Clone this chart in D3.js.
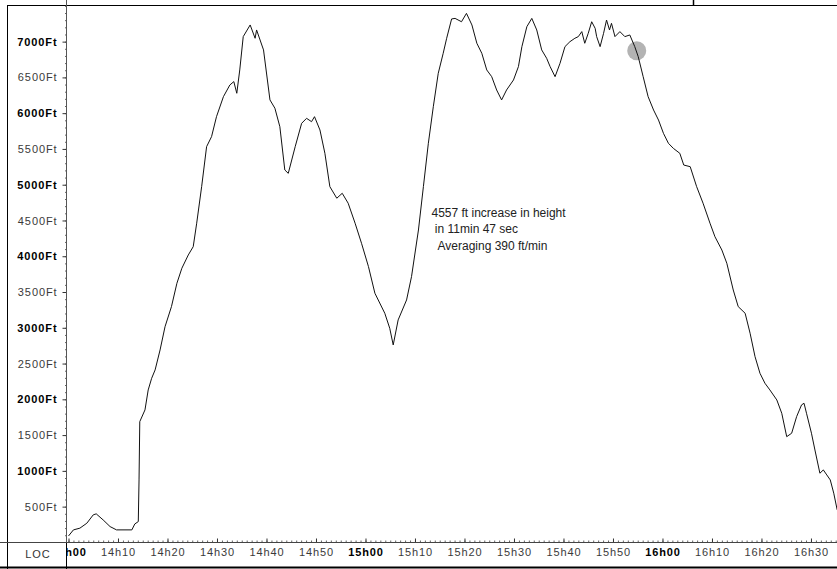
<!DOCTYPE html>
<html>
<head>
<meta charset="utf-8">
<script src="https://cdn.jsdelivr.net/npm/d3@7/dist/d3.min.js"></script>
<style>
  html, body { margin: 0; padding: 0; background: #fff; }
  svg { display: block; }
  .axis text { font-family: "Liberation Sans", Arial, sans-serif; font-size: 11px; letter-spacing: 0.9px; fill: #3a3a3a; }
  .axis text.major { font-weight: bold; fill: #000; }
  .note { font-family: "Liberation Sans", Arial, sans-serif; font-size: 12px; fill: #222; }
</style>
</head>
<body>
<svg id="chart" width="837" height="569"></svg>
<script>
// Flight altitude log: minutes after 14h00 and altitude in feet
const minutes = [
  0, 1.0, 2.3, 3.7, 5.0, 5.6, 7.0, 8.4, 9.7, 12.8, 13.4, 14.1, 14.25, 14.4, 15.45, 16.1, 16.8, 17.5,
  18.5, 19.5, 20.8, 21.9, 22.9, 24.2, 25.2, 25.9, 26.9, 27.9, 28.9, 29.9, 31.3, 32.6, 33.4, 34.0,
  34.6, 35.3, 36.7, 37.7, 38.0, 39.4, 40.7, 41.7, 42.7, 43.7, 44.4, 45.8, 47.1, 48.1, 49.1, 49.7,
  50.8, 51.8, 52.8, 54.2, 55.3, 56.5, 57.9, 59.2, 60.6, 61.9, 63.9, 64.9, 65.6, 66.6, 68.3, 69.3,
  70.7, 71.7, 72.7, 73.7, 74.7, 75.7, 76.4, 77.4, 78.1, 79.4, 80.4, 81.5, 82.5, 83.5, 84.5, 85.5,
  86.5, 87.5, 88.5, 89.9, 90.9, 91.6, 92.6, 93.6, 94.6, 95.6, 96.6, 97.3, 98.3, 99.3, 100.3, 101.3,
  102.3, 103.0, 103.7, 104.3, 105.0, 105.7, 106.4, 106.7, 107.4, 108.1, 108.7, 109.3, 109.7, 110.4,
  111.4, 112.4, 113.4, 114.4, 115.1, 116.1, 117.1, 118.2, 119.2, 120.2, 121.2, 122.2, 123.5, 124.3,
  125.6, 126.9, 128.2, 129.6, 130.6, 132.0, 133.0, 134.3, 135.3, 136.7, 137.7, 138.7, 139.7, 140.7,
  141.7, 143.1, 144.1, 145.1, 146.1, 147.1, 148.1, 148.6, 149.1, 150.1, 150.8, 151.8, 152.5, 153.2,
  153.9, 154.6, 155.3
];
const altitudeFt = [
  90, 175, 199, 268, 385, 399, 314, 221, 175, 175, 258, 291, 873, 1688, 1852, 2131, 2294, 2411,
  2690, 3015, 3296, 3622, 3832, 4018, 4134, 4462, 4973, 5532, 5672, 5951, 6231, 6394, 6441, 6278,
  6604, 7070, 7233, 7047, 7163, 6884, 6185, 6069, 5811, 5206, 5159, 5532, 5858, 5928, 5881, 5951,
  5765, 5439, 4973, 4811, 4880, 4741, 4462, 4181, 3855, 3483, 3203, 2993, 2760, 3110, 3389, 3715,
  4367, 4973, 5579, 6090, 6557, 6837, 7047, 7317, 7325, 7278, 7395, 7233, 6977, 6837, 6604, 6510,
  6324, 6185, 6324, 6464, 6651, 6930, 7209, 7325, 7163, 6884, 6767, 6651, 6510, 6697, 6930, 6999,
  7047, 7070, 7140, 6977, 7116, 7278, 7186, 7070, 6930, 7116, 7302, 7163, 7256, 7070,
  7140, 7070, 7093, 6930, 6790, 6510, 6231, 6044, 5904, 5718, 5579, 5508, 5439, 5275,
  5252, 4973, 4741, 4462, 4273, 4087, 3902, 3528, 3296, 3203, 2924, 2596, 2364, 2225,
  2131, 1991, 1805, 1478, 1526, 1758, 1922, 1945, 1805, 1526, 1292, 967, 1013, 943,
  873, 688, 454
];

// Axis ticks
const altTicks = [500, 1000, 1500, 2000, 2500, 3000, 3500, 4000, 4500, 5000, 5500, 6000, 6500, 7000];
const timeTicks = [0, 10, 20, 30, 40, 50, 60, 70, 80, 90, 100, 110, 120, 130, 140, 150];
const timeTickLabels = ["14h00", "14h10", "14h20", "14h30", "14h40", "14h50", "15h00", "15h10",
  "15h20", "15h30", "15h40", "15h50", "16h00", "16h10", "16h20", "16h30"];

// Marker on the descent and the climb summary
const markerPoint = { t: 114.8, alt: 6872 };
const noteLines = ["4557 ft increase in height", " in 11min 47 sec", "  Averaging 390 ft/min"];

const W = 837, H = 569;
const plot = { left: 66.5, right: 837, top: 5, bottom: 542.5 };

const svg = d3.select("#chart");

const x = d3.scaleLinear().domain([0, 155.3]).range([68.5, 837.2]);
const y = d3.scaleLinear().domain([0, 7512]).range([542.4, 5]);

// frame
svg.append("line").attr("x1", 7).attr("x2", W).attr("y1", 5.5).attr("y2", 5.5)
  .attr("stroke", "#000").attr("stroke-width", 1);
svg.append("line").attr("x1", 693.5).attr("x2", 693.5).attr("y1", 0).attr("y2", 5.5)
  .attr("stroke", "#000").attr("stroke-width", 1.5);
svg.append("line").attr("x1", 7.5).attr("x2", 7.5).attr("y1", 5).attr("y2", H)
  .attr("stroke", "#000").attr("stroke-width", 1);
svg.append("line").attr("x1", 0).attr("x2", W).attr("y1", 567.5).attr("y2", 567.5)
  .attr("stroke", "#000").attr("stroke-width", 2);
svg.append("line").attr("x1", 66.5).attr("x2", 66.5).attr("y1", 542).attr("y2", H)
  .attr("stroke", "#000").attr("stroke-width", 1);

svg.append("text").attr("class", "axis")
  .attr("x", 38).attr("y", 558).attr("text-anchor", "middle")
  .style("font-family", "'Liberation Sans', Arial, sans-serif")
  .style("font-size", "11px").style("letter-spacing", "0.9px").style("fill", "#333")
  .text("LOC");

// clip region for the plot
const defs = svg.append("defs");
defs.append("clipPath").attr("id", "plotClip").append("rect")
  .attr("x", plot.left).attr("y", plot.top).attr("width", plot.right - plot.left).attr("height", plot.bottom - plot.top);
defs.append("clipPath").attr("id", "xAxisClip").append("rect")
  .attr("x", plot.left).attr("y", 520).attr("width", W - plot.left).attr("height", 45);

// y axis: minor ticks every 100 ft, major every 500 ft
const yMinor = svg.append("g").attr("class", "axis")
  .attr("transform", `translate(${plot.left},0)`)
  .call(d3.axisLeft(y).tickValues(d3.range(100, 7501, 100)).tickSizeInner(1.5).tickSizeOuter(0).tickFormat(""));
yMinor.select(".domain").remove();
yMinor.selectAll(".tick line").attr("stroke", "#666");

const yAxis = svg.append("g").attr("class", "axis")
  .attr("transform", `translate(${plot.left},0)`)
  .call(d3.axisLeft(y).tickValues(altTicks).tickSizeInner(4).tickSizeOuter(0).tickPadding(5)
    .tickFormat(d => d + "Ft"));
yAxis.select(".domain").remove();
yAxis.selectAll(".tick line").attr("stroke", "#333");
yAxis.selectAll(".tick text").classed("major", d => d % 1000 === 0);

svg.append("line").attr("x1", plot.left).attr("x2", plot.left).attr("y1", 0).attr("y2", 542.5)
  .attr("stroke", "#555").attr("stroke-width", 1);

// x axis: minor ticks every minute, major every 10 minutes, ticks drawn upward
const xGroup = svg.append("g").attr("clip-path", "url(#xAxisClip)");
const xMinor = xGroup.append("g").attr("class", "axis")
  .attr("transform", `translate(0,${plot.bottom})`)
  .call(d3.axisBottom(x).tickValues(d3.range(0, 156, 1)).tickSizeInner(-2).tickSizeOuter(0).tickFormat(""));
xMinor.select(".domain").remove();
xMinor.selectAll(".tick line").attr("stroke", "#666");

const xAxis = xGroup.append("g").attr("class", "axis")
  .attr("transform", `translate(0,${plot.bottom})`)
  .call(d3.axisBottom(x).tickValues(timeTicks).tickSizeInner(-4).tickSizeOuter(0).tickPadding(6)
    .tickFormat((d, i) => timeTickLabels[i]));
xAxis.select(".domain").remove();
xAxis.selectAll(".tick line").attr("stroke", "#333");
xAxis.selectAll(".tick text").classed("major", d => d % 60 === 0);

svg.append("line").attr("x1", 0).attr("x2", W).attr("y1", 542.5).attr("y2", 542.5)
  .attr("stroke", "#444").attr("stroke-width", 1);

// marker
svg.append("circle")
  .attr("cx", x(markerPoint.t)).attr("cy", y(markerPoint.alt)).attr("r", 9.5)
  .attr("fill", "#b3b3b3");

// altitude trace
const series = minutes.map((t, i) => ({ t, alt: altitudeFt[i] }));
svg.append("path")
  .datum(series)
  .attr("clip-path", "url(#plotClip)")
  .attr("fill", "none")
  .attr("stroke", "#111")
  .attr("stroke-width", 1)
  .attr("stroke-linejoin", "round")
  .attr("d", d3.line().x(d => x(d.t)).y(d => y(d.alt)));

// climb summary
const noteX = [431.5, 431.5, 431.5];
const noteY = [216.5, 232.5, 250];
svg.selectAll("text.note").data(noteLines).enter().append("text")
  .attr("class", "note")
  .attr("x", (d, i) => noteX[i]).attr("y", (d, i) => noteY[i])
  .attr("xml:space", "preserve")
  .style("white-space", "pre")
  .text(d => d);
</script>
</body>
</html>
